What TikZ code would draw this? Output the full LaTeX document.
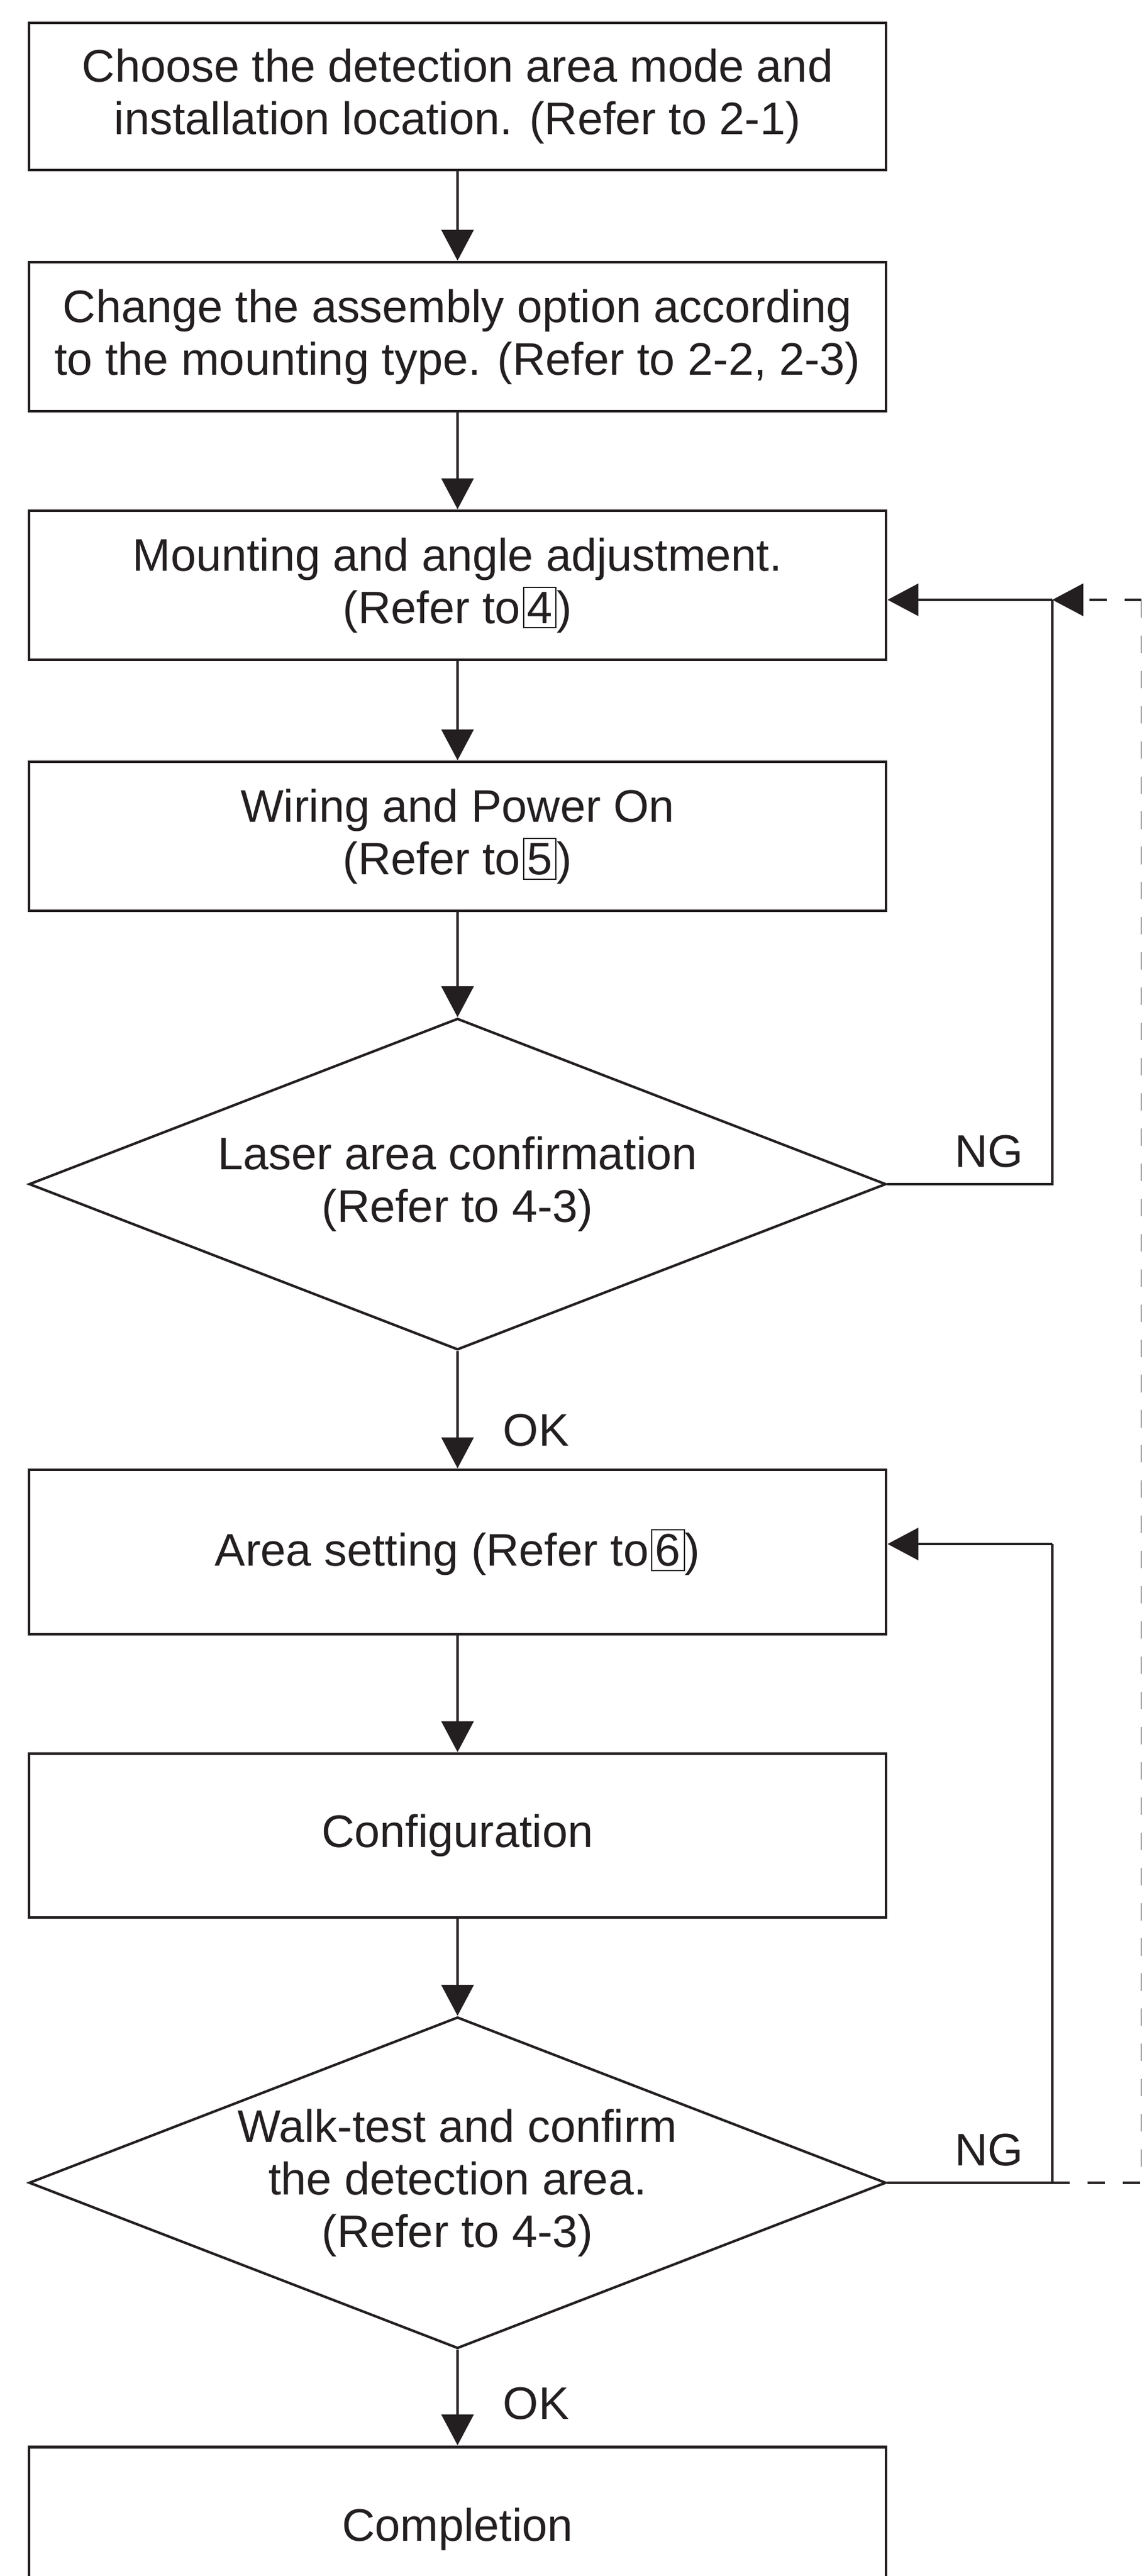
\documentclass[tikz,border=0pt]{standalone}
\usepackage{fontspec}
\setmainfont{Liberation Sans}
\usetikzlibrary{shapes.geometric,arrows.meta}
\definecolor{ink}{HTML}{231F20}
\setlength{\fboxsep}{1.7pt}
\setlength{\fboxrule}{0.6pt}
\newcommand{\refto}[1]{\kern1pt\framebox[15.6pt]{#1}}

\begin{document}
\begin{tikzpicture}[line width=1.15pt, ink,
  every node/.style={font=\fontsize{21pt}{24.2pt}\selectfont, text=ink},
  stepbox/.style={draw, line width=1.4pt, rectangle, minimum width=13.86cm,
    minimum height=2.41cm, align=center, inner sep=0pt},
  check/.style={draw, diamond, aspect=2.586, minimum width=13.86cm,
    minimum height=5.36cm, align=center, inner sep=0pt},
  go/.style={-{Triangle[length=0.5cm,width=0.52cm]}}]
\clip (0,0) rectangle (18.46,-41.66);

\node[stepbox, minimum height=2.38cm] (choose) at (7.40,-1.56)
  {Choose the detection area mode and\\installation location. (Refer to 2-1)};
\node[stepbox] (option) at (7.40,-5.445)
  {Change the assembly option according\\to the mounting type. (Refer to 2-2, 2-3)};
\node[stepbox] (mount) at (7.40,-9.465)
  {Mounting and angle adjustment.\\(Refer to\refto{4})};
\node[stepbox] (wiring) at (7.40,-13.525)
  {Wiring and Power On\\(Refer to\refto{5})};
\node[check] (laser) at (7.40,-19.15)
  {Laser area confirmation\\(Refer to 4-3)};
\node[stepbox, minimum height=2.66cm] (area) at (7.40,-25.10)
  {Area setting (Refer to\refto{6})};
\node[stepbox, minimum height=2.65cm] (config) at (7.40,-29.685)
  {Configuration};
\node[check] (walk) at (7.40,-35.30)
  {Walk-test and confirm\\the detection area.\\(Refer to 4-3)};
\node[stepbox, minimum height=2.66cm] (done) at (7.40,-40.90)
  {Completion};

\draw[go] (choose) -- (option);
\draw[go] (option) -- (mount);
\draw[go] (mount) -- (wiring);
\draw[go] (wiring) -- (laser);
\draw[go] (laser) -- node[pos=0.675, anchor=west, xshift=0.60cm] (okA) {OK} (area);
\draw[go] (area) -- (config);
\draw[go] (config) -- (walk);
\draw[go] (walk) -- node[pos=0.565, anchor=west, xshift=0.60cm] (okB) {OK} (done);

\coordinate (backA) at (17.02,-9.70);
\coordinate (turnA) at (17.02,-19.15);
\coordinate (backB) at (17.02,-24.97);
\coordinate (turnB) at (17.02,-35.30);
\coordinate (edgeA) at (18.47,-9.70);
\coordinate (edgeB) at (18.47,-35.30);

\node (ngA) at (16.00,-18.62) {NG};
\node (ngB) at (16.00,-34.77) {NG};

\draw (laser.east) -- (turnA) -- (backA);
\draw[go] (backA) -- (backA -| mount.east);
\draw (walk.east) -- (turnB) -- (backB);
\draw[go] (backB) -- (backB -| area.east);

\draw[dash pattern=on 8pt off 8.2pt] (turnB) -- (edgeB) -- (edgeA);
\draw[go, dash pattern=on 8pt off 8.2pt] (edgeA) -- (backA);
\end{tikzpicture}
\end{document}
